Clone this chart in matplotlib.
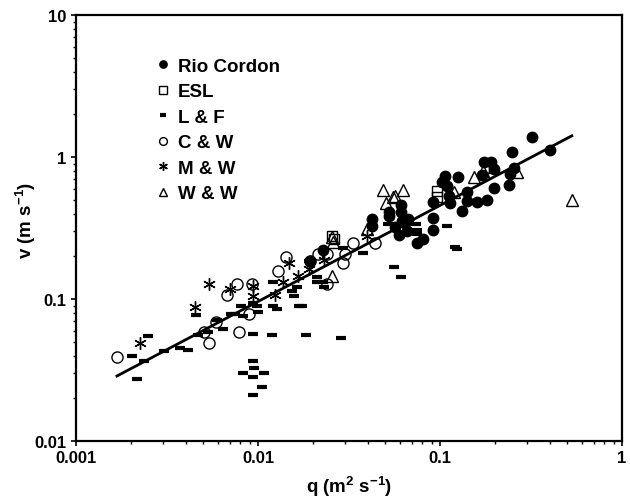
import numpy as np
import matplotlib
matplotlib.use('Agg')
import matplotlib.pyplot as plt

plt.rcParams['font.family'] = ['Liberation Sans', 'DejaVu Sans']
plt.rcParams['font.weight'] = 'bold'
plt.rcParams['mathtext.fontset'] = 'custom'
plt.rcParams['mathtext.rm'] = 'Liberation Sans:bold'
plt.rcParams['mathtext.bf'] = 'Liberation Sans:bold'
plt.rcParams['mathtext.it'] = 'Liberation Sans:bold'

# Rio Cordon (filled circles)
rio_q = [0.320, 0.402, 0.249, 0.175, 0.191, 0.198, 0.255, 0.243, 0.170, 0.106,
         0.126, 0.103, 0.109, 0.141, 0.198, 0.239, 0.112, 0.113, 0.0917, 0.141,
         0.160, 0.181, 0.132, 0.0917, 0.0917, 0.0611, 0.0611, 0.0525, 0.0525, 0.0423,
         0.0423, 0.0566, 0.0596, 0.0659, 0.0667, 0.0618, 0.0748, 0.0807, 0.0228, 0.0640,
         0.0193]
rio_v = [1.38, 1.12, 1.08, 0.922, 0.922, 0.823, 0.838, 0.759, 0.747, 0.735,
         0.723, 0.667, 0.625, 0.567, 0.605, 0.635, 0.531, 0.474, 0.482, 0.490,
         0.482, 0.498, 0.417, 0.372, 0.306, 0.459, 0.410, 0.410, 0.384, 0.366,
         0.327, 0.321, 0.282, 0.301, 0.366, 0.354, 0.248, 0.265, 0.221, 0.343,
         0.185]

# ESL (open squares)
esl_q = [0.0964, 0.0964, 0.0255, 0.0262]
esl_v = [0.577, 0.523, 0.278, 0.263]

# L & F (dashes)
lf_q = [0.00203, 0.00216, 0.00249, 0.00237, 0.00305, 0.00373, 0.00412, 0.00456, 0.00468, 0.00531,
        0.00596, 0.00643, 0.00712, 0.00748, 0.00808, 0.00828, 0.00940, 0.00989, 0.00940, 0.0100,
        0.00828, 0.00940, 0.00953, 0.00940, 0.0108, 0.0105, 0.00940, 0.0119, 0.0121, 0.0127,
        0.0121, 0.0154, 0.0158, 0.0164, 0.0168, 0.0184, 0.0211, 0.0211, 0.0231, 0.0286,
        0.0293, 0.0378, 0.0558, 0.0611, 0.0518, 0.0738, 0.0748, 0.0748, 0.109, 0.121,
        0.124, 0.0175, 0.0228, 0.0191]
lf_v = [0.0397, 0.0273, 0.0549, 0.0366, 0.0431, 0.0452, 0.0438, 0.0771, 0.0557, 0.0586,
        0.0711, 0.0615, 0.0784, 0.0784, 0.0893, 0.0759, 0.0938, 0.0893, 0.0567, 0.0809,
        0.0301, 0.0366, 0.0327, 0.0282, 0.0301, 0.0240, 0.0211, 0.0557, 0.0893, 0.0851,
        0.132, 0.114, 0.105, 0.122, 0.0893, 0.0557, 0.143, 0.132, 0.122, 0.0531,
        0.229, 0.211, 0.168, 0.143, 0.337, 0.337, 0.306, 0.287, 0.327, 0.232,
        0.225, 0.0893, 0.132, 0.185]

# C & W (open circles)
cw_q = [0.00168, 0.00505, 0.00538, 0.00588, 0.00787, 0.00894, 0.00676, 0.00768, 0.00927, 0.0129,
        0.0143, 0.0193, 0.0214, 0.0239, 0.0239, 0.0333, 0.0440, 0.0293, 0.0301]
cw_v = [0.0391, 0.0586, 0.0490, 0.0689, 0.0586, 0.0784, 0.107, 0.128, 0.128, 0.157,
        0.198, 0.185, 0.207, 0.207, 0.128, 0.248, 0.248, 0.179, 0.207]

# M & W (asterisks)
mw_q = [0.00225, 0.00451, 0.00538, 0.00702, 0.00940, 0.00940, 0.0124, 0.0137, 0.0148, 0.0166,
        0.0191, 0.0231, 0.0397]
mw_v = [0.0490, 0.0879, 0.128, 0.117, 0.124, 0.105, 0.107, 0.132, 0.179, 0.145,
        0.163, 0.188, 0.278]

# W & W (open triangles)
ww_q = [0.0487, 0.0627, 0.0552, 0.0566, 0.0505, 0.0397, 0.0255, 0.0258, 0.0255, 0.154,
        0.172, 0.265, 0.119, 0.531, 0.198]
ww_v = [0.586, 0.586, 0.523, 0.531, 0.474, 0.311, 0.273, 0.252, 0.145, 0.723,
        0.797, 0.785, 0.567, 0.498, 0.850]

# fitted line end points
fit_q = [0.00168, 0.53]
fit_v = [0.0287, 1.41]

fig = plt.figure(figsize=(6.3, 5.02), dpi=100)
ax = fig.add_axes([0.1206, 0.1195, 0.8667, 0.8486])

ax.plot(rio_q, rio_v, 'o', color='black', markersize=7.5, label='Rio Cordon', zorder=3)
ax.plot(esl_q, esl_v, 's', mfc='none', mec='black', mew=1.0, markersize=7.5, label='ESL', zorder=3)
ax.plot(lf_q, lf_v, '_', color='black', mew=3.0, markersize=7, label='L & F', zorder=3)
ax.plot(cw_q, cw_v, 'o', mfc='none', mec='black', mew=1.0, markersize=8, label='C & W', zorder=3)
ax.plot(mw_q, mw_v, marker=(6, 2, 0), ls='none', color='black', mew=1.0, markersize=9, label='M & W', zorder=3)
ax.plot(ww_q, ww_v, '^', mfc='none', mec='black', mew=1.0, markersize=8, label='W & W', zorder=3)
ax.plot(fit_q, fit_v, '-', color='black', lw=2, zorder=4)

ax.set_xscale('log')
ax.set_yscale('log')
ax.set_xlim(0.001, 1)
ax.set_ylim(0.01, 10)

ax.set_xticks([0.001, 0.01, 0.1, 1])
ax.set_xticklabels(['0.001', '0.01', '0.1', '1'])
ax.set_yticks([0.01, 0.1, 1, 10])
ax.set_yticklabels(['0.01', '0.1', '1', '10'])

for s in ['top', 'right', 'left', 'bottom']:
    ax.spines[s].set_linewidth(1.6)
ax.tick_params(which='major', direction='out', length=3.8, width=1.2, labelsize=12, pad=3)
ax.tick_params(which='minor', direction='out', length=2.2, width=1.0)
ax.tick_params(top=False, right=False, which='both')

ax.set_xlabel('q (m$^{2}$ s$^{-1}$)', fontsize=13.5, fontweight='bold', labelpad=6)
ax.set_ylabel('v (m s$^{-1}$)', fontsize=13.5, fontweight='bold')
ax.yaxis.set_label_coords(-0.07, 0.52)

leg = ax.legend(loc='upper left', bbox_to_anchor=(0.115, 0.94), frameon=False,
                prop={'size': 13.5, 'weight': 'bold'}, markerscale=0.7,
                handlelength=0.8, handletextpad=0.4, labelspacing=0.45, numpoints=1)

fig.savefig('out.png', dpi=100)
